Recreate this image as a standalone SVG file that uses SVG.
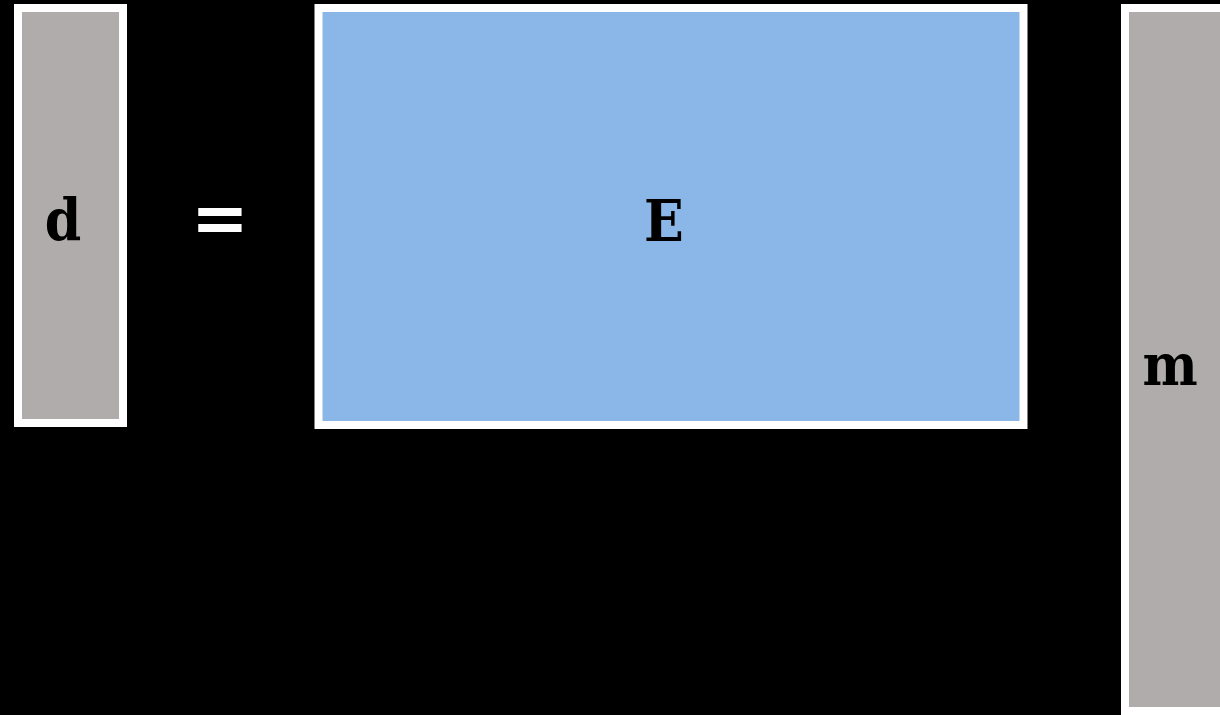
<svg xmlns="http://www.w3.org/2000/svg" width="1220" height="715" viewBox="0 0 1220 715">
<style>
.box{stroke:#ffffff;stroke-width:8}
.gray{fill:#b0acab}
.blue{fill:#8bb7e8}
.lbl{font-family:"DejaVu Serif Condensed","DejaVu Serif",serif;font-stretch:condensed;font-weight:bold;font-size:58px;fill:#000000;text-anchor:middle}
.eq{font-family:"DejaVu Sans",sans-serif;font-weight:bold;font-size:69px;fill:#ffffff;text-anchor:middle}
</style>
<rect x="0" y="0" width="1220" height="715" fill="#000000"/>
<g id="d">
<rect class="box gray" x="18" y="8" width="105" height="415"/>
<text class="lbl" x="63" y="240">d</text>
</g>
<g id="eq">
<text class="eq" x="220" y="242">=</text>
</g>
<g id="E">
<rect class="box blue" x="318.5" y="8" width="705" height="417"/>
<text class="lbl" x="664" y="241">E</text>
</g>
<g id="m">
<rect class="box gray" x="1125" y="8" width="200" height="703"/>
<text class="lbl" x="1170" y="385">m</text>
</g>
<g id="connectors"></g>
</svg>
